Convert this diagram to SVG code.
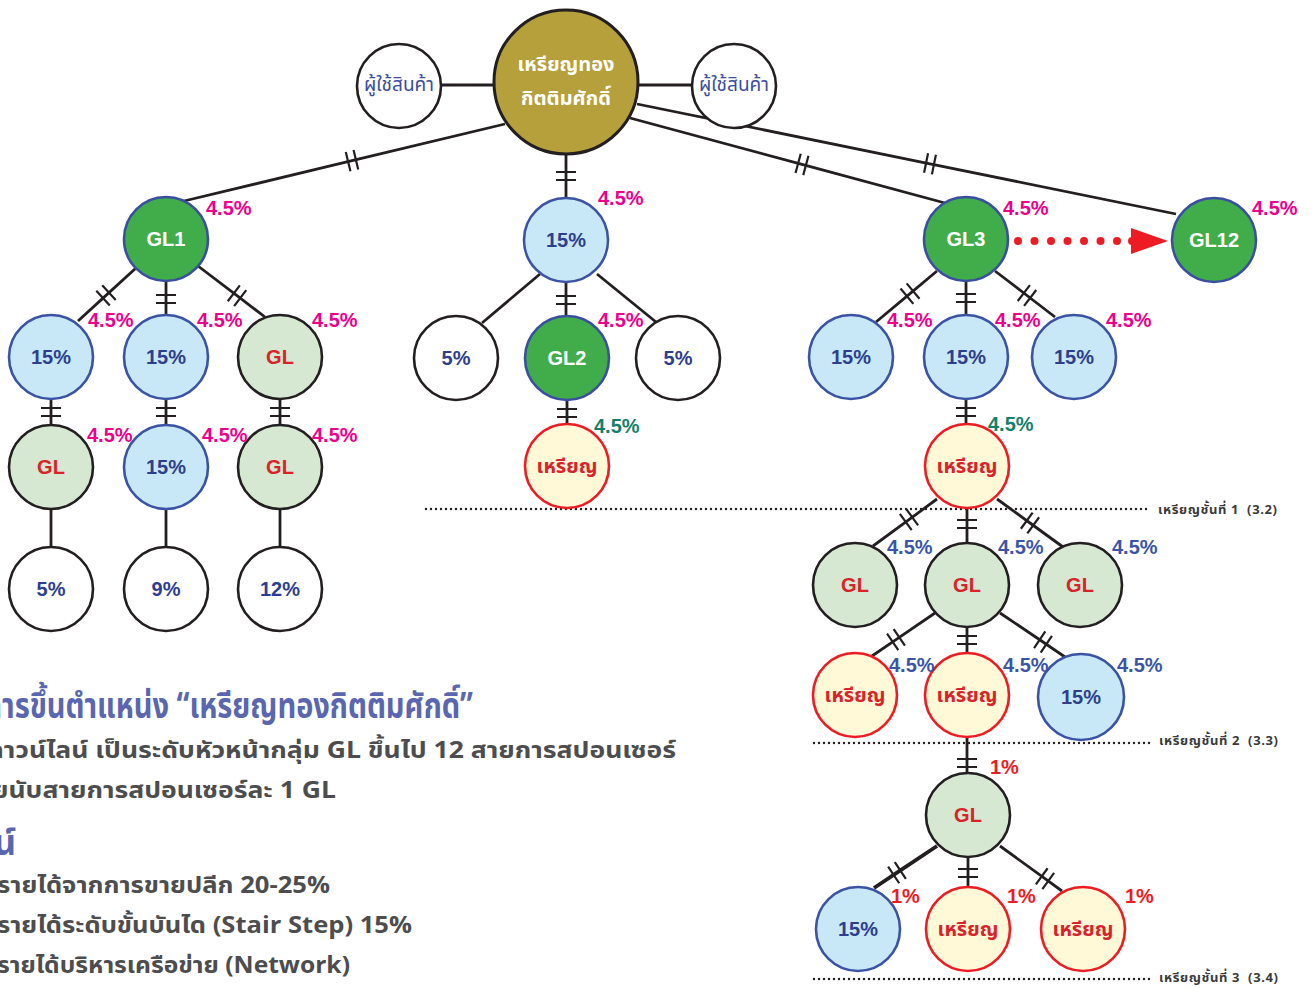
<svg xmlns="http://www.w3.org/2000/svg" width="1315" height="988" viewBox="0 0 1315 988">
  <defs>
    <style>
      .c { fill: none; stroke: #231F20; stroke-width: 2.8; }
      .cw { fill: none; stroke: #231F20; stroke-width: 3.8; }
      .tk { marker-mid: url(#tick); }
      .dot { fill: none; stroke: #231F20; stroke-width: 2.4; stroke-linecap: round; stroke-dasharray: 0 5; }
      .gold { fill: #B5A03B; stroke: #231F20; stroke-width: 3; }
      .green { fill: #40AD4A; stroke: #3A4FA0; stroke-width: 2.6; }
      .blue { fill: #C8E8F8; stroke: #3A53A4; stroke-width: 2.6; }
      .lgreen { fill: #D7E8D2; stroke: #231F20; stroke-width: 2.6; }
      .yellow { fill: #FFF9D7; stroke: #ED1C24; stroke-width: 2.6; }
      .white { fill: #FFFFFF; stroke: #231F20; stroke-width: 2.6; }
      text { font-family: "Liberation Sans", "Noto Sans Thai", "Noto Sans", sans-serif; font-weight: bold; }
      .nt { font-size: 20px; text-anchor: middle; }
      .th { font-family: "Noto Sans Thai", "Noto Sans Thai Looped", "Noto Sans", "DejaVu Sans", sans-serif; }
      .tw { fill: #FFFFFF; }
      .tb { fill: #2E3E8E; }
      .tr { fill: #D9232A; }
      .pct { font-size: 20px; }
      .pk { fill: #EC008C; }
      .gr { fill: #12806A; }
      .bl { fill: #3B55A6; }
      .rd { fill: #ED1C24; }
      .lvl { font-size: 13px; fill: #3A3A3A; }
      .body { font-size: 23px; fill: #4D4D4F; text-anchor: end; }
      .head { font-size: 35px; fill: #5A66B0; text-anchor: end; }
    </style>
    <marker id="tick" markerWidth="12" markerHeight="24" refX="6" refY="12" orient="auto" markerUnits="userSpaceOnUse" overflow="visible">
      <path d="M2 2 V22 M10 2 V22" stroke="#231F20" stroke-width="2.2" fill="none"/>
    </marker>
  </defs>

  <!-- level separators -->
  <g id="levels">
    <line class="dot" x1="426" y1="509" x2="1150" y2="509"/>
    <line class="dot" x1="814" y1="743" x2="1150" y2="743"/>
    <line class="dot" x1="814" y1="979" x2="1150" y2="979"/>
    <text class="lvl th" x="1158" y="514" textLength="119" lengthAdjust="spacing" xml:space="preserve">เหรียญชั้นที่ 1  (3.2)</text>
    <text class="lvl th" x="1159" y="745" textLength="119" lengthAdjust="spacing" xml:space="preserve">เหรียญชั้นที่ 2  (3.3)</text>
    <text class="lvl th" x="1159" y="982" textLength="119" lengthAdjust="spacing" xml:space="preserve">เหรียญชั้นที่ 3  (3.4)</text>
  </g>

  <!-- connectors -->
  <g id="connectors">
    <path class="c" d="M442 85 H494"/>
    <path class="c" d="M638 85 H692"/>
    <path class="c tk" d="M505 124 L352 160.7 L184 201"/>
    <path class="c tk" d="M566 155 L566 176 L566 198"/>
    <path class="c tk" d="M630 118 L802 164.4 L945 203"/>
    <path class="c tk" d="M637 104 L930 163.8 L1176 214"/>

    <path class="c tk" d="M136 268 L106 295.4 L78 321"/>
    <path class="c tk" d="M166 281 L166 299 L166 315"/>
    <path class="c tk" d="M198 266 L237 295.7 L265 317"/>
    <path class="c tk" d="M51 400 L51 412 L51 425"/>
    <path class="c tk" d="M166 400 L166 412 L166 425"/>
    <path class="c tk" d="M280 400 L280 412 L280 425"/>
    <path class="c" d="M51 509 V547"/>
    <path class="c" d="M166 509 V547"/>
    <path class="c" d="M280 509 V547"/>

    <path class="c" d="M540 274 L482 323"/>
    <path class="c tk" d="M566 282 L566 300 L566 317"/>
    <path class="c" d="M597 274 L656 322"/>
    <path class="c tk" d="M567 401 L567 413 L567 425"/>

    <path class="c tk" d="M937 271 L910 293.6 L876 322"/>
    <path class="c tk" d="M966 281 L966 298 L966 315"/>
    <path class="c tk" d="M995 271 L1027 295.5 L1055 317"/>
    <path class="c tk" d="M966 399 L966 412 L966 425"/>

    <path class="c tk" d="M937 499 L909 519.6 L873 546"/>
    <path class="c tk" d="M967 508 L967 524 L967 543"/>
    <path class="c tk" d="M997 499 L1030 523 L1063 547"/>

    <path class="c tk" d="M935 613 L896 639.6 L872 656"/>
    <path class="c tk" d="M967 627 L967 640 L967 653"/>
    <path class="c tk" d="M1000 613 L1043 642 L1065 657"/>

    <path class="c tk" d="M967 738 L967 763 L967 773"/>
    <path class="cw tk" d="M937 846 L897 872.7 L874 888"/>
    <path class="c tk" d="M968 858 L968 873 L968 887"/>
    <path class="c tk" d="M1000 846 L1045 878.7 L1062 891"/>

    <!-- red dotted arrow GL3 to GL12 -->
    <g fill="#ED1C24">
      <circle cx="1018" cy="241" r="4"/>
      <circle cx="1034.5" cy="241" r="4"/>
      <circle cx="1051" cy="241" r="4"/>
      <circle cx="1067.5" cy="241" r="4"/>
      <circle cx="1084" cy="241" r="4"/>
      <circle cx="1100.5" cy="241" r="4"/>
      <circle cx="1117" cy="241" r="4"/>
      <circle cx="1132" cy="241" r="4"/>
      <polygon points="1131,228 1168,241 1131,254"/>
    </g>
  </g>

  <!-- top -->
  <g id="gold">
    <circle class="gold" cx="566" cy="82" r="72"/>
    <text class="nt tw th" x="566" y="71" font-size="21">เหรียญทอง</text>
    <text class="nt tw th" x="566" y="105" font-size="21">กิตติมศักดิ์</text>
  </g>
  <g id="user-left">
    <circle class="white" cx="399" cy="86" r="42"/>
    <text class="nt th" x="399" y="91" style="font-weight:normal;fill:#3B4DA0;font-size:19px">ผู้ใช้สินค้า</text>
  </g>
  <g id="user-right">
    <circle class="white" cx="734" cy="86" r="42"/>
    <text class="nt th" x="734" y="91" style="font-weight:normal;fill:#3B4DA0;font-size:19px">ผู้ใช้สินค้า</text>
  </g>

  <g id="gl1"><circle class="green" cx="166" cy="239" r="42"/><text class="nt tw" x="166" y="246">GL1</text></g>
  <g id="c15"><circle class="blue" cx="566" cy="240" r="42"/><text class="nt tb" x="566" y="247">15%</text></g>
  <g id="gl3"><circle class="green" cx="966" cy="239" r="42"/><text class="nt tw" x="966" y="246">GL3</text></g>
  <g id="gl12"><circle class="green" cx="1214" cy="240" r="42"/><text class="nt tw" x="1214" y="247">GL12</text></g>

  <!-- GL1 branch -->
  <g id="a1"><circle class="blue" cx="51" cy="357" r="42"/><text class="nt tb" x="51" y="364">15%</text></g>
  <g id="a2"><circle class="blue" cx="166" cy="357" r="42"/><text class="nt tb" x="166" y="364">15%</text></g>
  <g id="a3"><circle class="lgreen" cx="280" cy="357" r="42"/><text class="nt tr" x="280" y="364">GL</text></g>
  <g id="b1"><circle class="lgreen" cx="51" cy="467" r="42"/><text class="nt tr" x="51" y="474">GL</text></g>
  <g id="b2"><circle class="blue" cx="166" cy="467" r="42"/><text class="nt tb" x="166" y="474">15%</text></g>
  <g id="b3"><circle class="lgreen" cx="280" cy="467" r="42"/><text class="nt tr" x="280" y="474">GL</text></g>
  <g id="d1"><circle class="white" cx="51" cy="589" r="42"/><text class="nt tb" x="51" y="596">5%</text></g>
  <g id="d2"><circle class="white" cx="166" cy="589" r="42"/><text class="nt tb" x="166" y="596">9%</text></g>
  <g id="d3"><circle class="white" cx="280" cy="589" r="42"/><text class="nt tb" x="280" y="596">12%</text></g>

  <!-- centre branch -->
  <g id="e1"><circle class="white" cx="456" cy="358" r="42"/><text class="nt tb" x="456" y="365">5%</text></g>
  <g id="gl2"><circle class="green" cx="567" cy="358" r="42"/><text class="nt tw" x="567" y="365">GL2</text></g>
  <g id="e3"><circle class="white" cx="678" cy="358" r="42"/><text class="nt tb" x="678" y="365">5%</text></g>
  <g id="e4"><circle class="yellow" cx="567" cy="466" r="42"/><text class="nt tr th" x="567" y="473">เหรียญ</text></g>

  <!-- GL3 branch -->
  <g id="f1"><circle class="blue" cx="851" cy="357" r="42"/><text class="nt tb" x="851" y="364">15%</text></g>
  <g id="f2"><circle class="blue" cx="966" cy="357" r="42"/><text class="nt tb" x="966" y="364">15%</text></g>
  <g id="f3"><circle class="blue" cx="1074" cy="357" r="42"/><text class="nt tb" x="1074" y="364">15%</text></g>
  <g id="m1"><circle class="yellow" cx="967" cy="466" r="42"/><text class="nt tr th" x="967" y="473">เหรียญ</text></g>

  <g id="g1"><circle class="lgreen" cx="855" cy="585" r="42"/><text class="nt tr" x="855" y="592">GL</text></g>
  <g id="g2"><circle class="lgreen" cx="967" cy="585" r="42"/><text class="nt tr" x="967" y="592">GL</text></g>
  <g id="g3"><circle class="lgreen" cx="1080" cy="585" r="42"/><text class="nt tr" x="1080" y="592">GL</text></g>

  <g id="h1"><circle class="yellow" cx="855" cy="695" r="42"/><text class="nt tr th" x="855" y="702">เหรียญ</text></g>
  <g id="m2"><circle class="yellow" cx="967" cy="695" r="42"/><text class="nt tr th" x="967" y="702">เหรียญ</text></g>
  <g id="h3"><circle class="blue" cx="1081" cy="697" r="43"/><text class="nt tb" x="1081" y="704">15%</text></g>

  <g id="g4"><circle class="lgreen" cx="968" cy="815" r="42"/><text class="nt tr" x="968" y="822">GL</text></g>

  <g id="k1"><circle class="blue" cx="858" cy="929" r="42"/><text class="nt tb" x="858" y="936">15%</text></g>
  <g id="m3"><circle class="yellow" cx="968" cy="929" r="42"/><text class="nt tr th" x="968" y="936">เหรียญ</text></g>
  <g id="k3"><circle class="yellow" cx="1083" cy="929" r="42"/><text class="nt tr th" x="1083" y="936">เหรียญ</text></g>

  <!-- percentage labels -->
  <g id="labels" class="pct">
    <text class="pk" x="206" y="215">4.5%</text>
    <text class="pk" x="598" y="205">4.5%</text>
    <text class="pk" x="1003" y="215">4.5%</text>
    <text class="pk" x="1252" y="215">4.5%</text>
    <text class="pk" x="88" y="327">4.5%</text>
    <text class="pk" x="197" y="327">4.5%</text>
    <text class="pk" x="312" y="327">4.5%</text>
    <text class="pk" x="598" y="327">4.5%</text>
    <text class="pk" x="887" y="327">4.5%</text>
    <text class="pk" x="995" y="327">4.5%</text>
    <text class="pk" x="1106" y="327">4.5%</text>
    <text class="pk" x="87" y="442">4.5%</text>
    <text class="pk" x="202" y="442">4.5%</text>
    <text class="pk" x="312" y="442">4.5%</text>
    <text class="gr" x="594" y="433">4.5%</text>
    <text class="gr" x="988" y="431">4.5%</text>
    <text class="bl" x="887" y="554">4.5%</text>
    <text class="bl" x="998" y="554">4.5%</text>
    <text class="bl" x="1112" y="554">4.5%</text>
    <text class="bl" x="889" y="672">4.5%</text>
    <text class="bl" x="1003" y="672">4.5%</text>
    <text class="bl" x="1117" y="672">4.5%</text>
    <text class="rd" x="990" y="774">1%</text>
    <text class="rd" x="891" y="903">1%</text>
    <text class="rd" x="1007" y="903">1%</text>
    <text class="rd" x="1125" y="903">1%</text>
  </g>

  <!-- notes, bottom left (the panel runs on past the left edge) -->
  <g id="notes">
    <text class="head th" x="473" y="718" textLength="489" lengthAdjust="spacingAndGlyphs">การขึ้นตำแหน่ง “เหรียญทองกิตติมศักดิ์”</text>
    <text class="body th" x="676" y="758" textLength="689" lengthAdjust="spacingAndGlyphs">ดาวน์ไลน์ เป็นระดับหัวหน้ากลุ่ม GL ขึ้นไป 12 สายการสปอนเซอร์</text>
    <text class="body th" x="336" y="798" textLength="344" lengthAdjust="spacingAndGlyphs">ยนับสายการสปอนเซอร์ละ 1 GL</text>
    <text class="head th" x="16" y="855">ผลประโยชน์</text>
    <text class="body th" x="330" y="893" textLength="333" lengthAdjust="spacingAndGlyphs">รายได้จากการขายปลีก 20-25%</text>
    <text class="body th" x="412" y="933" textLength="415" lengthAdjust="spacingAndGlyphs">รายได้ระดับขั้นบันได (Stair Step) 15%</text>
    <text class="body th" x="350" y="973" textLength="353" lengthAdjust="spacingAndGlyphs">รายได้บริหารเครือข่าย (Network)</text>
  </g>
</svg>
